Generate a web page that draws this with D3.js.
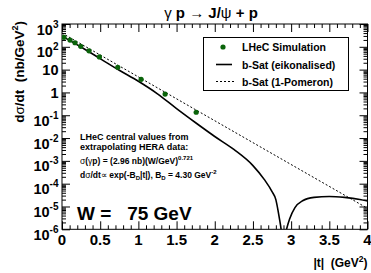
<!DOCTYPE html>
<html><head><meta charset="utf-8">
<script src="https://cdn.jsdelivr.net/npm/d3@7"></script>
<style>
html,body{margin:0;padding:0;background:#fff;}
svg{display:block;font-family:"Liberation Sans",Arial,Helvetica,sans-serif;}
</style></head>
<body>
<svg id="c" width="371" height="273"></svg>
<script>
// ---- data ----
const simT   = [0.026, 0.105, 0.17, 0.245, 0.354, 0.49, 0.73, 1.036, 1.35, 1.757];
const simV   = [261, 198, 151, 105, 67, 36, 12.6, 3.76, 0.85, 0.135];
const eikT   = [0, 0.25, 0.5, 0.75, 1.0, 1.25, 1.5, 1.75, 2.0, 2.25, 2.5, 2.65, 2.75, 2.8, 2.83, 2.86, 2.9, 2.94, 2.98, 3.05, 3.15, 3.3, 3.5, 3.7, 3.9, 4.0];
const eikV   = [295, 97.7, 30.2, 9.33, 3.09, 0.871, 0.195, 0.0468, 0.0117, 0.00316, 6.2e-4, 1.5e-4, 4.5e-5, 2.0e-5, 6.3e-6, 1.6e-6, 2.5e-7, 1.0e-6, 2.8e-6, 8.9e-6, 1.78e-5, 2.5e-5, 2.75e-5, 2.5e-5, 2.04e-5, 1.74e-5];
const pomT   = [0, 2, 4];
const pomV   = [400, 0.0575, 8.3e-6];
const xTicks = [0, 0.5, 1, 1.5, 2, 2.5, 3, 3.5, 4];
const xTickLabels = ["0", "0.5", "1", "1.5", "2", "2.5", "3", "3.5", "4"];
const yTickExp = [3, 2, 1, 0, -1, -2, -3, -4, -5, -6];
const yTickBase = ["10", "10", "10", "1", "10", "10", "10", "10", "10", "10"];
const yTickSup  = ["3", "2", "", "", "-1", "-2", "-3", "-4", "-5", "-6"];
const legendLabels = ["LHeC Simulation", "b-Sat (eikonalised)", "b-Sat (1-Pomeron)"];

// ---- layout ----
const svg = d3.select("#c");
const X0 = 62, X1 = 367.5, Y0 = 24, Y1 = 229.3;
const x = d3.scaleLinear().domain([0, 4]).range([X0, X1]);
const y = d3.scaleLog().domain([1e-6, 1e3]).range([Y1, Y0]);
const green = "#0a640a";

svg.append("rect").attr("width", 371).attr("height", 273).attr("fill", "#fff");

svg.append("clipPath").attr("id", "clip").append("rect")
  .attr("x", X0).attr("y", Y0).attr("width", X1 - X0).attr("height", Y1 - Y0);

// minor ticks
const xMinor = d3.range(0, 41).map(i => i / 10).filter(v => Math.abs(v * 2 - Math.round(v * 2)) > 1e-6);
const yMajor = yTickExp.map(e => Math.pow(10, e));
const yMinor = [];
for (let e = -6; e < 3; e++) for (let m = 2; m <= 9; m++) yMinor.push(m * Math.pow(10, e));

function axisDraw(gen, tr) {
  const g = svg.append("g").attr("transform", tr).call(gen);
  g.select(".domain").remove();
  g.selectAll("text").remove();
  g.selectAll("line").attr("stroke", "#000").attr("stroke-width", 1);
  return g;
}
const ML = 8, mL = 4;
axisDraw(d3.axisBottom(x).tickValues(xTicks).tickSize(-ML), `translate(0,${Y1})`);
axisDraw(d3.axisBottom(x).tickValues(xMinor).tickSize(-mL), `translate(0,${Y1})`);
axisDraw(d3.axisTop(x).tickValues(xTicks).tickSize(-ML), `translate(0,${Y0})`);
axisDraw(d3.axisTop(x).tickValues(xMinor).tickSize(-mL), `translate(0,${Y0})`);
axisDraw(d3.axisLeft(y).tickValues(yMajor).tickSize(-ML), `translate(${X0},0)`);
axisDraw(d3.axisLeft(y).tickValues(yMinor).tickSize(-mL), `translate(${X0},0)`);
axisDraw(d3.axisRight(y).tickValues(yMajor).tickSize(-ML), `translate(${X1},0)`);
axisDraw(d3.axisRight(y).tickValues(yMinor).tickSize(-mL), `translate(${X1},0)`);

svg.append("rect").attr("x", X0).attr("y", Y0).attr("width", X1 - X0).attr("height", Y1 - Y0)
  .attr("fill", "none").attr("stroke", "#000").attr("stroke-width", 1);

// x labels
svg.append("g").selectAll("text").data(xTicks).join("text")
  .attr("x", d => x(d)).attr("y", Y1 + 16)
  .attr("text-anchor", "middle").attr("font-size", 15).attr("font-weight", "bold")
  .text((d, i) => xTickLabels[i]);

// y labels
const yl = svg.append("g").selectAll("text").data(yTickExp).join("text")
  .attr("text-anchor", "end").attr("font-weight", "bold").attr("font-size", 14.5)
  .attr("x", 58.5)
  .attr("y", (d, i) => y(Math.pow(10, d)) + (yTickSup[i] ? 10.5 : 5.5));
yl.append("tspan").text((d, i) => yTickBase[i]);
yl.append("tspan").attr("font-size", 10).attr("dy", -7).text((d, i) => yTickSup[i]);

// curves
const line = d3.line().x(d => x(d[0])).y(d => y(d[1])).curve(d3.curveMonotoneX);
const plotG = svg.append("g").attr("clip-path", "url(#clip)");
plotG.append("path").datum(pomT.map((t, i) => [t, pomV[i]])).attr("d", d3.line().x(d => x(d[0])).y(d => y(d[1])))
  .attr("fill", "none").attr("stroke", "#000").attr("stroke-width", 1).attr("stroke-dasharray", "2,2");
plotG.append("path").datum(eikT.map((t, i) => [t, eikV[i]])).attr("d", line)
  .attr("fill", "none").attr("stroke", "#000").attr("stroke-width", 1.6);
plotG.append("g").selectAll("circle").data(simT.map((t, i) => [t, simV[i]])).join("circle")
  .attr("cx", d => x(d[0])).attr("cy", d => y(d[1])).attr("r", 2.6).attr("fill", green);

// title
const title = svg.append("text").attr("x", 211).attr("y", 18).attr("text-anchor", "middle")
  .attr("font-size", 15).attr("font-weight", "bold");
title.append("tspan").attr("font-weight", "normal").text("γ");
title.append("tspan").text(" p ");
title.append("tspan").attr("font-weight", "normal").text("→");
title.append("tspan").text(" J/");
title.append("tspan").attr("font-weight", "normal").text("ψ");
title.append("tspan").text(" + p");

// axis titles
const yt = svg.append("text").attr("transform", "translate(24,21) rotate(-90)")
  .attr("text-anchor", "end").attr("font-size", 13.5).attr("font-weight", "bold")
  .attr("xml:space", "preserve");
yt.append("tspan").text("d");
yt.append("tspan").attr("font-weight", "normal").text("σ");
yt.append("tspan").text("/dt  (nb/GeV");
yt.append("tspan").attr("font-size", 9).attr("dy", -6).text("2");
yt.append("tspan").attr("dy", 6).text(")");

const xt = svg.append("text").attr("x", 367.5).attr("y", 267).attr("text-anchor", "end")
  .attr("font-size", 12).attr("font-weight", "bold").attr("xml:space", "preserve");
xt.append("tspan").text("|t|  (GeV");
xt.append("tspan").attr("font-size", 8.5).attr("dy", -5).text("2");
xt.append("tspan").attr("dy", 5).text(")");

// legend
const lg = svg.append("g");
lg.append("rect").attr("x", 203.5).attr("y", 37.5).attr("width", 145).attr("height", 53)
  .attr("fill", "#fff").attr("stroke", "#000").attr("stroke-width", 1);
const rowsY = [47, 64.5, 81.5];
lg.append("circle").attr("cx", 223).attr("cy", rowsY[0]).attr("r", 2.6).attr("fill", green);
lg.append("line").attr("x1", 216).attr("x2", 232).attr("y1", rowsY[1]).attr("y2", rowsY[1])
  .attr("stroke", "#000").attr("stroke-width", 1.6);
lg.append("line").attr("x1", 216).attr("x2", 234).attr("y1", rowsY[2]).attr("y2", rowsY[2])
  .attr("stroke", "#000").attr("stroke-width", 1).attr("stroke-dasharray", "2,2");
lg.selectAll("text.l").data(legendLabels).join("text").attr("class", "l")
  .attr("x", 242).attr("y", (d, i) => rowsY[i] + 4)
  .attr("font-size", 10.5).attr("font-weight", "bold").text(d => d);

// annotation
const ann = svg.append("g").attr("font-weight", "bold");
ann.append("text").attr("x", 80).attr("y", 140).attr("font-size", 9).text("LHeC central values from");
ann.append("text").attr("x", 80).attr("y", 150).attr("font-size", 9).text("extrapolating HERA data:");
const a3 = ann.append("text").attr("x", 80).attr("y", 164).attr("font-size", 8.5);
a3.append("tspan").attr("font-weight", "normal").text("σ");
a3.append("tspan").text("(");
a3.append("tspan").attr("font-weight", "normal").text("γ");
a3.append("tspan").text("p) = (2.96 nb)(W/GeV)");
a3.append("tspan").attr("font-size", 6).attr("dy", -4).text("0.721");
const a4 = ann.append("text").attr("x", 80).attr("y", 178).attr("font-size", 8.5);
a4.append("tspan").text("d");
a4.append("tspan").attr("font-weight", "normal").text("σ");
a4.append("tspan").text("/dt");
a4.append("tspan").attr("font-weight", "normal").text("∝");
a4.append("tspan").text(" exp(-B");
a4.append("tspan").attr("font-size", 6).attr("dy", 2).text("D");
a4.append("tspan").attr("dy", -2).text("|t|), B");
a4.append("tspan").attr("font-size", 6).attr("dy", 2).text("D");
a4.append("tspan").attr("dy", -2).text(" = 4.30 GeV");
a4.append("tspan").attr("font-size", 6).attr("dy", -4).text("-2");

svg.append("text").attr("x", 77).attr("y", 220).attr("font-size", 19).attr("font-weight", "bold")
  .attr("xml:space", "preserve").text("W =   75 GeV");
</script>
</body></html>
